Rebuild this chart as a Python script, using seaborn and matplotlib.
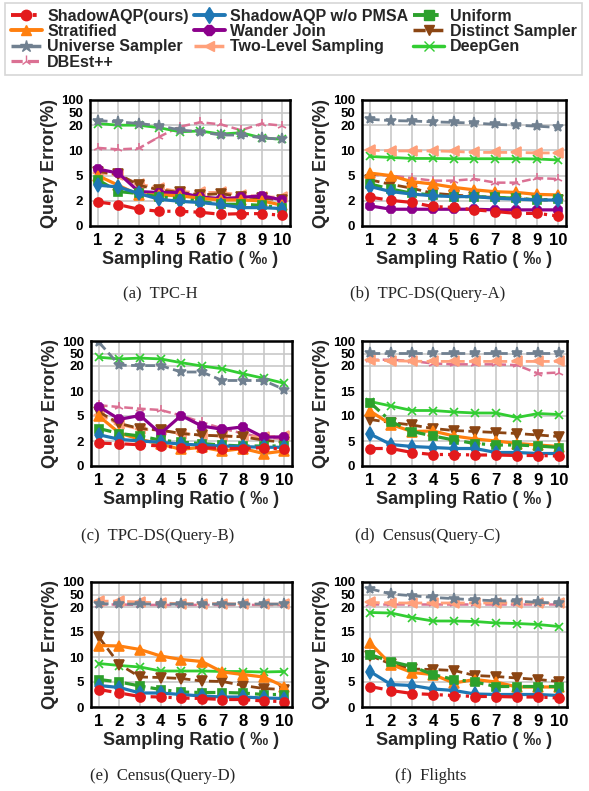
import numpy as np
import pandas as pd
import matplotlib
matplotlib.use("Agg")
import matplotlib.pyplot as plt
import seaborn as sns
from matplotlib.lines import Line2D

sns.set_theme(style="whitegrid")
plt.rcParams['font.family'] = ['Liberation Sans', 'DejaVu Sans']

# ---------------- data ----------------
ratios = [1, 2, 3, 4, 5, 6, 7, 8, 9, 10]

methods = ["ShadowAQP(ours)", "ShadowAQP w/o PMSA", "Uniform", "Stratified",
           "Wander Join", "Distinct Sampler", "Universe Sampler",
           "Two-Level Sampling", "DeepGen", "DBEst++"]

tpch = {
    "ShadowAQP(ours)":    [1.9, 1.7, 1.33, 1.17, 1.17, 1.09, 0.93, 0.98, 0.98, 0.85],
    "ShadowAQP w/o PMSA": [3.86, 3.65, 2.87, 2.18, 1.96, 1.86, 1.7, 1.46, 1.46, 1.38],
    "Uniform":            [4.5, 3.1, 2.87, 2.46, 2.26, 1.96, 1.72, 1.72, 1.64, 1.43],
    "Stratified":         [5.0, 3.85, 2.7, 2.7, 2.6, 2.3, 2.1, 2.1, 2.0, 1.65],
    "Wander Join":        [6.3, 5.5, 3.1, 2.98, 2.98, 2.46, 2.26, 2.4, 2.6, 2.1],
    "Distinct Sampler":   [5.8, 5.3, 3.85, 3.3, 3.0, 2.7, 2.85, 2.5, 2.3, 2.1],
    "Universe Sampler":   [31, 28, 24, 19.8, 18.1, 17.4, 16.1, 16.1, 15, 14.4],
    "Two-Level Sampling": [5.6, 5.1, 4.0, 3.5, 3.1, 3.0, 3.0, 2.7, 2.5, 2.4],
    "DeepGen":            [24, 20, 20, 19, 17.4, 17.7, 16.5, 17.0, 15, 14.4],
    "DBEst++":            [11.0, 10.4, 10.8, 15.4, 19.4, 27, 22, 18, 24, 19.8],
}

tpcds_a = {
    "ShadowAQP(ours)":    [2.44, 2.05, 1.87, 1.55, 1.47, 1.28, 1.15, 1.0, 1.0, 0.8],
    "ShadowAQP w/o PMSA": [3.7, 3.1, 2.8, 2.6, 2.5, 2.5, 2.3, 2.2, 2.1, 2.1],
    "Uniform":            [4.0, 3.4, 2.9, 2.7, 2.5, 2.5, 2.4, 2.3, 2.1, 2.2],
    "Stratified":         [5.5, 5.0, 4.28, 4.0, 3.6, 3.3, 3.08, 3.0, 2.76, 2.7],
    "Wander Join":        [1.6, 1.33, 1.33, 1.33, 1.33, 1.33, 1.28, 1.28, 1.28, 1.28],
    "Distinct Sampler":   [4.5, 3.96, 3.5, 2.9, 2.7, 2.5, 2.4, 2.3, 2.1, 2.1],
    "Universe Sampler":   [34, 31, 30, 28, 26.6, 25, 22, 20, 19.6, 19.1],
    "Two-Level Sampling": [10.1, 9.9, 9.9, 9.9, 9.8, 9.6, 9.6, 9.6, 9.5, 9.5],
    "DeepGen":            [8.8, 8.6, 8.4, 8.4, 8.35, 8.35, 8.35, 8.35, 8.3, 8.1],
    "DBEst++":            [5.2, 5.0, 4.7, 4.4, 4.4, 4.6, 4.16, 4.16, 4.7, 4.6],
}

tpcds_b = {
    "ShadowAQP(ours)":    [1.83, 1.78, 1.7, 1.6, 1.47, 1.47, 1.4, 1.4, 1.47, 1.33],
    "ShadowAQP w/o PMSA": [2.75, 2.2, 2.0, 1.9, 1.75, 1.67, 1.6, 1.55, 1.5, 1.5],
    "Uniform":            [3.5, 2.9, 2.6, 2.1, 1.9, 1.8, 1.67, 1.6, 1.6, 1.6],
    "Stratified":         [5.0, 2.95, 2.2, 1.75, 1.33, 1.5, 1.2, 1.4, 1.0, 1.2],
    "Wander Join":        [6.9, 4.6, 5.1, 2.9, 5.1, 3.8, 3.4, 3.7, 2.45, 2.5],
    "Distinct Sampler":   [5.8, 4.1, 3.5, 3.3, 2.9, 2.7, 2.6, 2.5, 2.1, 1.9],
    "Universe Sampler":   [95, 22, 21, 21, 17.6, 17.6, 14.2, 14.2, 14.2, 10.6],
    "Two-Level Sampling": [5.3, 4.0, 3.4, 3.3, 2.9, 2.7, 2.6, 2.55, 2.5, 2.55],
    "DeepGen":            [41, 37, 39, 37, 28, 20, 18.9, 16.9, 15.1, 13.1],
    "DBEst++":            [7.15, 6.8, 6.46, 6.2, 5.1, 4.25, 3.5, 2.9, 2.4, 2.25],
}

census_c = {
    "ShadowAQP(ours)":    [3.5, 3.5, 2.7, 2.3, 2.3, 2.2, 2.2, 2.1, 2.1, 2.0],
    "ShadowAQP w/o PMSA": [6.4, 4.3, 3.9, 3.7, 3.5, 3.5, 2.7, 2.7, 2.5, 2.5],
    "Uniform":            [12.7, 8.9, 6.9, 6.0, 5.2, 4.5, 4.2, 4.2, 4.0, 3.7],
    "Stratified":         [11.0, 8.3, 6.9, 7.0, 6.0, 5.4, 5.0, 4.5, 4.2, 3.9],
    "Distinct Sampler":   [9.3, 8.7, 8.2, 7.5, 7.1, 6.9, 6.7, 6.5, 6.2, 5.9],
    "Universe Sampler":   [52, 52, 52, 52, 52, 52, 52, 52, 52, 52],
    "Two-Level Sampling": [34, 32.6, 31.5, 31, 31, 31, 31, 31, 31, 31],
    "DeepGen":            [12.9, 12.0, 11.1, 11.1, 10.8, 10.6, 10.6, 9.7, 10.5, 10.3],
    "DBEst++":            [35, 35, 32, 26, 24, 24, 24, 22, 18.5, 18.7],
}

census_d = {
    "ShadowAQP(ours)":    [3.5, 2.8, 2.1, 2.0, 1.8, 1.7, 1.5, 1.5, 1.2, 1.1],
    "ShadowAQP w/o PMSA": [4.3, 3.9, 2.8, 2.8, 2.5, 2.2, 2.0, 2.0, 1.8, 1.7],
    "Uniform":            [5.5, 5.0, 4.2, 3.5, 3.0, 2.9, 2.9, 2.8, 2.5, 2.5],
    "Stratified":         [12.3, 12.2, 11.5, 10.2, 9.5, 9.1, 7.0, 6.5, 6.0, 4.1],
    "Distinct Sampler":   [14.0, 8.5, 6.0, 5.9, 5.7, 5.2, 5.1, 4.3, 3.7, 3.5],
    "Universe Sampler":   [28, 27, 27, 27, 27, 27, 27, 27, 27, 27],
    "Two-Level Sampling": [34, 34, 32, 29.6, 28, 28, 28, 26.8, 26.8, 26.8],
    "DeepGen":            [8.7, 8.3, 8.0, 7.2, 7.2, 7.2, 7.1, 7.1, 7.0, 7.1],
    "DBEst++":            [26, 26, 25, 25, 25, 25, 25, 25, 25, 25],
}

flights = {
    "ShadowAQP(ours)":    [4.1, 3.3, 2.7, 2.5, 2.3, 2.1, 2.1, 2.0, 2.0, 1.8],
    "ShadowAQP w/o PMSA": [7.1, 4.5, 4.3, 3.6, 3.3, 2.6, 2.5, 2.5, 2.5, 2.3],
    "Uniform":            [10.5, 9.1, 8.1, 6.5, 5.5, 5.0, 4.1, 4.1, 4.1, 4.1],
    "Stratified":         [12.8, 8.5, 6.9, 6.5, 4.8, 5.5, 5.0, 4.0, 4.0, 4.0],
    "Distinct Sampler":   [10.3, 8.6, 7.6, 7.5, 7.3, 6.3, 6.1, 5.8, 5.5, 5.1],
    "Universe Sampler":   [73, 52, 47, 43, 40, 37, 35, 34, 31, 29.6],
    "Two-Level Sampling": [31, 29.6, 29.6, 29.6, 29.6, 29.6, 29.6, 29.6, 29.6, 28.6],
    "DeepGen":            [18.9, 18.8, 17.9, 17.2, 17.2, 17.1, 16.8, 16.7, 16.5, 16.1],
    "DBEst++":            [27, 27, 27, 27, 27, 27, 27, 27, 27, 27],
}

ticks_small = [0, 2, 5, 10, 20, 50, 100]
ticks_large = [0, 5, 10, 15, 20, 50, 100]

captions = ["(a)  TPC-H", "(b)  TPC-DS(Query-A)", "(c)  TPC-DS(Query-B)",
            "(d)  Census(Query-C)", "(e)  Census(Query-D)", "(f)  Flights"]

# ---------------- styles ----------------
DASHDOT = (0, (4, 1.6, 1, 1.6))
DASH = (0, (3.5, 1.6))
styles = {
    "ShadowAQP(ours)":    dict(color="#e31a1c", marker="o", ms=6.5, ls=DASHDOT, lw=2.3),
    "ShadowAQP w/o PMSA": dict(color="#1f77b4", marker="d", ms=7.5, ls="-", lw=2.3),
    "Uniform":            dict(color="#2ca02c", marker="s", ms=6.0, ls=DASHDOT, lw=2.3),
    "Stratified":         dict(color="#ff7f0e", marker="^", ms=6.5, ls="-", lw=2.3),
    "Wander Join":        dict(color="#8b008b", marker="8", ms=6.5, ls="-", lw=2.3),
    "Distinct Sampler":   dict(color="#8b4513", marker="v", ms=6.5, ls=DASH, lw=2.0),
    "Universe Sampler":   dict(color="#708090", marker="*", ms=8.0, ls=DASH, lw=2.0),
    "Two-Level Sampling": dict(color="#ffa07a", marker="<", ms=6.5, ls=DASH, lw=2.0),
    "DeepGen":            dict(color="#32cd32", marker="x", ms=5.5, ls="-", lw=2.0),
    "DBEst++":            dict(color="#db7093", marker="2", ms=7.0, ls=DASH, lw=1.8),
}

draw_order = methods[::-1]


def make_scale(ticks):
    pos = np.arange(len(ticks), dtype=float)
    pos[-2] = pos[-3] + 0.5
    pos[-1] = pos[-3] + 1.0
    tv = np.array(ticks, dtype=float)

    def fwd(v):
        return np.interp(np.asarray(v, dtype=float), tv, pos)

    def inv(u):
        return np.interp(np.asarray(u, dtype=float), pos, tv)
    return fwd, inv


W, H = 589, 791
fig = plt.figure(figsize=(W / 100, H / 100), dpi=100)

# axes rectangles in pixel coords (left, top, right, bottom)
rects = [(90, 100, 290, 226), (362, 100, 566, 226),
         (91, 341, 292, 466), (362, 341, 567, 466),
         (91, 582, 292, 707), (362, 582, 567, 707)]
panels = [(tpch, ticks_small), (tpcds_a, ticks_small), (tpcds_b, ticks_small),
          (census_c, ticks_large), (census_d, ticks_large), (flights, ticks_large)]
cap_pos = [(160, 294), (428, 294), (158, 536), (428, 536), (163, 776), (431, 776)]

for (l, t, r, b), (pdata, ticks), cap, cp in zip(rects, panels, captions, cap_pos):
    ax = fig.add_axes([l / W, 1 - b / H, (r - l) / W, (b - t) / H])
    for m in draw_order:
        if m not in pdata:
            continue
        st = styles[m]
        df = pd.DataFrame({"ratio": ratios, "err": pdata[m]})
        sns.lineplot(data=df, x="ratio", y="err", ax=ax, color=st["color"],
                     marker=st["marker"], markersize=st["ms"],
                     markeredgecolor=st["color"], markerfacecolor=st["color"],
                     markeredgewidth=1.2, linestyle=st["ls"], linewidth=st["lw"],
                     errorbar=None, legend=False)
    fwd, inv = make_scale(ticks)
    ax.set_yscale("function", functions=(fwd, inv))
    ax.set_ylim(0, 100)
    ax.set_yticks(ticks)
    ax.set_yticklabels([str(v) for v in ticks])
    ax.set_xlim(0.62, 10.38)
    ax.set_xticks(ratios)
    ax.set_xticklabels([str(v) for v in ratios])
    ax.minorticks_off()
    ax.grid(True, color="#c8c8c8", linewidth=1.2)
    ax.set_facecolor("white")
    for sp in ax.spines.values():
        sp.set_color("black")
        sp.set_linewidth(1.8)
    ax.tick_params(axis="y", labelsize=9.5, length=2, pad=3, colors="black")
    ax.tick_params(axis="x", labelsize=12, length=2, pad=3, colors="black")
    for lab in ax.get_xticklabels() + ax.get_yticklabels():
        lab.set_fontweight("bold")
    ax.set_xlabel("Sampling Ratio ( ‰ )", fontsize=13, fontweight="bold", labelpad=2)
    ax.set_ylabel("Query Error(%)", fontsize=13, fontweight="bold", labelpad=2)
    fig.text(cp[0] / W, 1 - cp[1] / H, cap, ha="center", va="center",
             fontsize=12, family=["Liberation Serif", "DejaVu Serif"])

# ---------------- legend ----------------
def handle(m):
    st = styles[m]
    return Line2D([], [], color=st["color"], marker=st["marker"], markersize=st["ms"] + 1,
                  markeredgecolor=st["color"], markerfacecolor=st["color"],
                  linestyle=st["ls"], linewidth=st["lw"] + 0.5)

leg_order = ["ShadowAQP(ours)", "Stratified", "Universe Sampler", "DBEst++",
             "ShadowAQP w/o PMSA", "Wander Join", "Two-Level Sampling",
             "Uniform", "Distinct Sampler", "DeepGen"]
leg = fig.legend([handle(m) for m in leg_order], leg_order, ncol=3,
                 loc="upper left", bbox_to_anchor=(5 / W, 1 - 3 / H),
                 prop=dict(size=11.5, weight="bold"), frameon=True,
                 fancybox=False, edgecolor="#cccccc", handlelength=1.95,
                 handletextpad=0.35, columnspacing=0.3, labelspacing=0.02,
                 borderpad=0.35, borderaxespad=0)
leg.get_frame().set_linewidth(1.2)

fig.savefig("out.png", dpi=100, facecolor="white")
